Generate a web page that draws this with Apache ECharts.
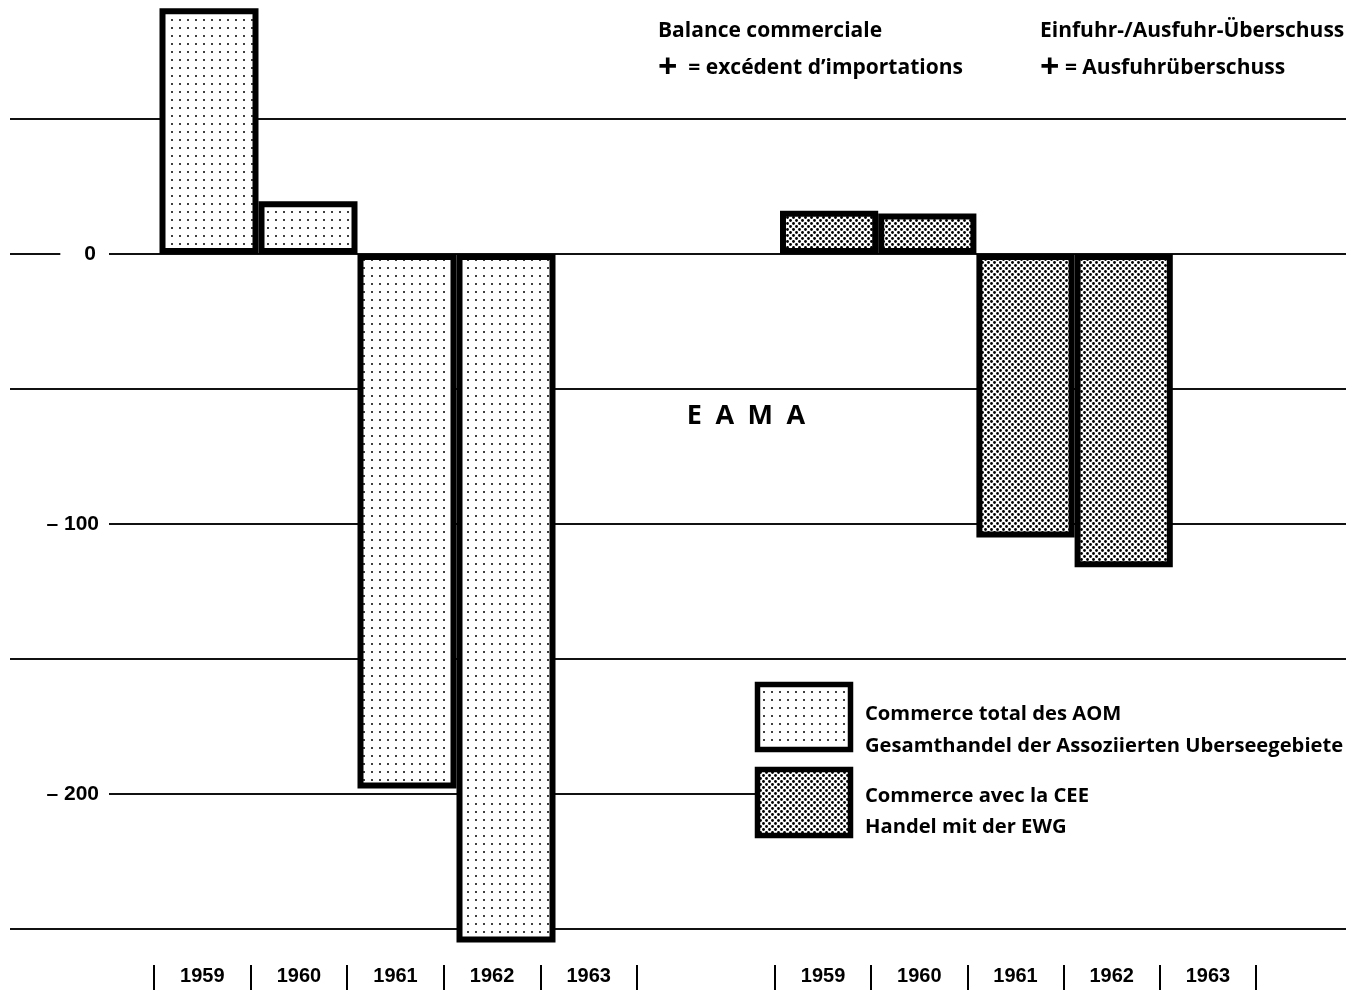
<!DOCTYPE html>
<html><head><meta charset="utf-8">
<script src="https://cdn.jsdelivr.net/npm/echarts@6/dist/echarts.min.js"></script>
<style>html,body{margin:0;padding:0;background:#fff}#c{width:1346px;height:993px}</style>
</head><body><div id="c"></div>
<script>
// ---- data ----
const years = ['1959', '1960', '1961', '1962', '1963'];
const totalAOM = [91, 19.5, -198, -255, null];    // Commerce total des AOM
const tradeCEE = [16, 15, -105, -116, null];      // Commerce avec la CEE
const yTickLabels = { '0': '0', '-100': '– 100', '-200': '– 200' };
const seriesNames = [
  'Commerce total des AOM\nGesamthandel der Assoziierten Uberseegebiete',
  'Commerce avec la CEE\nHandel mit der EWG'
];
const headerTexts = [
  'Balance commerciale', '= excédent d’importations',
  'Einfuhr-/Ausfuhr-Überschuss', '= Ausfuhrüberschuss'
];
const centerLabel = 'E\u2002A\u2002M\u2002A';

// ---- patterns ----
function makePattern(size, dots, r) {
  const c = document.createElement('canvas');
  c.width = size; c.height = size;
  const g = c.getContext('2d');
  g.fillStyle = '#fff'; g.fillRect(0, 0, size, size);
  g.fillStyle = '#000';
  dots.forEach(d => { g.beginPath(); g.arc(d[0], d[1], r, 0, Math.PI * 2); g.fill(); });
  return { image: c, repeat: 'repeat' };
}
const sparse = makePattern(8, [[4, 4]], 1.0);
const dense = makePattern(6, [[1.5, 1.5], [4.5, 4.5]], 1.4);

const FONT = "'Open Sans', 'DejaVu Sans', sans-serif";
const NUMFONT = "'Liberation Sans', Arial, sans-serif";

const chart = echarts.init(document.getElementById('c'), null, { renderer: 'canvas' });

const labelAxis = (gi) => ({
  gridIndex: gi, type: 'category', data: years, boundaryGap: true,
  axisLine: { show: false },
  axisTick: { show: true, inside: true, length: 25, lineStyle: { color: '#000', width: 2 } },
  axisLabel: { inside: true, margin: 4, color: '#000', fontFamily: NUMFONT, fontWeight: 'bold', fontSize: 20, verticalAlign: 'bottom' }
});
const bgAxis = { gridIndex: 0, type: 'value', min: -250, max: 50, interval: 50 };
const barAxis = (gi) => ({ gridIndex: gi, type: 'value', min: -260, max: 94, show: false, splitLine: { show: false } });

const legendNames0 = seriesNames[0].split('\n');
const legendNames1 = seriesNames[1].split('\n');
const txt = (x, y, text, size, extra) => ({
  type: 'text', x: x, y: y, z: 6,
  style: Object.assign({ text: text, font: 'bold ' + size + 'px ' + FONT, fill: '#000', verticalAlign: 'middle' }, extra || {})
});

chart.setOption({
  animation: false,
  backgroundColor: '#fff',
  grid: [
    { left: 10, right: 0, top: 119, height: 810 },
    { left: 159.5, width: 495, top: 0.2, height: 955.8 },
    { left: 780, width: 491, top: 0.2, height: 955.8 },
    { left: 154, width: 483, top: 965, height: 25 },
    { left: 775, width: 481, top: 965, height: 25 }
  ],
  xAxis: [
    { gridIndex: 0, type: 'value', show: false },
    { gridIndex: 1, type: 'category', data: years, show: false },
    { gridIndex: 2, type: 'category', data: years, show: false },
    labelAxis(3),
    labelAxis(4)
  ],
  yAxis: [
    Object.assign({}, bgAxis, {
      axisLine: { show: false }, axisTick: { show: false }, axisLabel: { show: false },
      splitLine: { show: true, lineStyle: { color: '#111', width: 2 } } }),
    Object.assign({}, bgAxis, { position: 'left', z: 10,
      axisLine: { show: false }, axisTick: { show: false }, splitLine: { show: false },
      axisLabel: {
        inside: true, align: 'right', margin: 99,
        formatter: v => {
          const t = yTickLabels[String(v)];
          if (!t) return '';
          return (v === 0 ? '{z|' : '{a|') + t + '}';
        },
        rich: {
          a: { backgroundColor: '#fff', padding: [4, 10, 4, 40], fontSize: 21, fontWeight: 'bold', color: '#000', fontFamily: NUMFONT },
          z: { backgroundColor: '#fff', padding: [4, 13, 4, 24], fontSize: 21, fontWeight: 'bold', color: '#000', fontFamily: NUMFONT }
        }
      } }),
    barAxis(1),
    barAxis(2),
    { gridIndex: 3, type: 'value', show: false, splitLine: { show: false } },
    { gridIndex: 4, type: 'value', show: false, splitLine: { show: false } }
  ],
  series: [
    { name: seriesNames[0], type: 'bar', xAxisIndex: 1, yAxisIndex: 2, data: totalAOM,
      barWidth: '100%', barCategoryGap: 0,
      itemStyle: { color: sparse, borderColor: '#000', borderWidth: 6 } },
    { name: seriesNames[1], type: 'bar', xAxisIndex: 2, yAxisIndex: 3, data: tradeCEE,
      barWidth: '100%', barCategoryGap: 0,
      itemStyle: { color: dense, borderColor: '#000', borderWidth: 6 } }
  ],
  graphic: [
    // header notes
    { type: 'text', x: 658, y: 31, z: 6, style: { text: headerTexts[0], font: 'bold 21px ' + FONT, fill: '#000', verticalAlign: 'middle' } },
    { type: 'text', x: 658, y: 68, z: 6, style: { text: '{p|+}  ' + headerTexts[1], font: 'bold 21px ' + FONT, fill: '#000', verticalAlign: 'middle',
        rich: { p: { font: 'bold 34px ' + FONT, fill: '#000' } } } },
    { type: 'text', x: 1040, y: 31, z: 6, style: { text: headerTexts[2], font: 'bold 21px ' + FONT, fill: '#000', verticalAlign: 'middle' } },
    { type: 'text', x: 1040, y: 68, z: 6, style: { text: '{p|+} ' + headerTexts[3], font: 'bold 21px ' + FONT, fill: '#000', verticalAlign: 'middle',
        rich: { p: { font: 'bold 34px ' + FONT, fill: '#000' } } } },
    // center label
    { type: 'text', x: 746, y: 416, z: 6, style: { text: centerLabel, font: 'bold 27px ' + FONT, fill: '#000', align: 'center', verticalAlign: 'middle' } },
    // legend
    { type: 'rect', z: 5, shape: { x: 755, y: 676, width: 591, height: 170 }, style: { fill: '#fff' } },
    { type: 'rect', z: 6, shape: { x: 757.5, y: 684.5, width: 93, height: 65 }, style: { fill: sparse, stroke: '#000', lineWidth: 5.5 } },
    { type: 'rect', z: 6, shape: { x: 757.5, y: 769.5, width: 93, height: 66 }, style: { fill: dense, stroke: '#000', lineWidth: 5.5 } },
    txt(865, 714, legendNames0[0], 20.2),
    txt(865, 746, legendNames0[1], 20.2),
    txt(865, 796, legendNames1[0], 20.2),
    txt(865, 827, legendNames1[1], 20.2)
  ]
});
</script></body></html>
